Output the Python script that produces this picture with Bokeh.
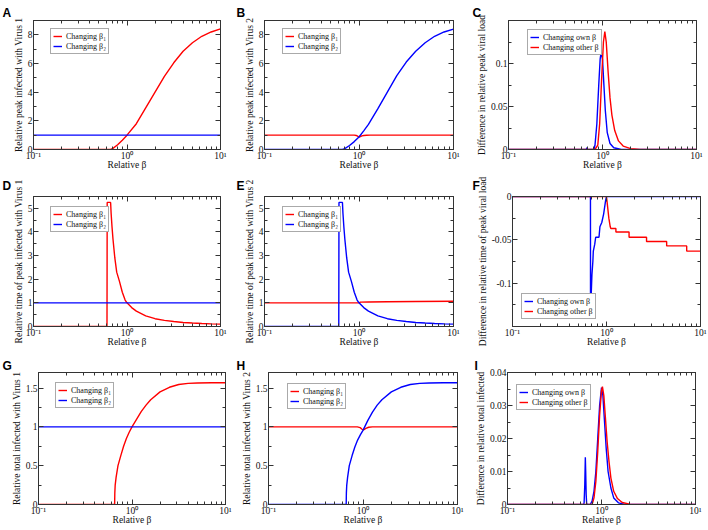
from bokeh.plotting import figure
from bokeh.models import (Range1d, LinearAxis, LogAxis, FixedTicker, NumeralTickFormatter,
                          CustomJSTickFormatter, Legend, LegendItem)
from bokeh.layouts import column, row
from bokeh.embed import file_html
from bokeh.resources import INLINE

RED = "#ff0000"
BLUE = "#0000ff"
SERIF = "Liberation Serif"
SANS = "Liberation Sans"

# ---------------- shared axis data ----------------
X_RANGE = (0.1, 10)
X_TICKS = [0.1, 1, 10]
X_TICK_LABELS = ["10⁻¹", "10⁰", "10¹"]
X_MINOR = [0.2, 0.3, 0.4, 0.5, 0.6, 0.7, 0.8, 0.9, 2, 3, 4, 5, 6, 7, 8, 9]
X_LABEL = "Relative β"
LEG_BETA = ["Changing β₁", "Changing β₂"]
LEG_OWN = ["Changing own β", "Changing other β"]

# ---------------- panel A ----------------
a_b1_x = [0.1, 0.5, 0.668, 0.708, 0.794, 0.891, 1.0, 1.259, 1.585, 1.995, 2.512, 3.162, 3.981, 5.012, 6.310, 7.943, 10]
a_b1_y = [0, 0, 0, 0.08, 0.33, 0.65, 1.0, 1.8, 2.9, 4.0, 5.1, 6.05, 6.85, 7.45, 7.9, 8.2, 8.42]
a_b2_x = [0.1, 10]
a_b2_y = [1, 1]

# ---------------- panel B ----------------
b_b1_x = [0.1, 0.891, 0.933, 0.966, 1.0, 1.035, 1.072, 1.122, 1.202, 1.318, 10]
b_b1_y = [1, 1, 0.98, 0.93, 0.87, 0.9, 0.95, 0.98, 0.995, 1.0, 1.0]
b_b2_x = [0.1, 0.5, 0.668, 0.708, 0.794, 0.891, 1.0, 1.122, 1.259, 1.585, 1.995, 2.512, 3.162, 3.981, 5.012, 6.310, 7.943, 10]
b_b2_y = [0, 0, 0, 0.06, 0.28, 0.55, 0.87, 1.3, 1.75, 2.85, 4.0, 5.15, 6.1, 6.85, 7.45, 7.9, 8.2, 8.4]

# ---------------- panel C ----------------
c_own_x = [0.1, 0.646, 0.673, 0.681, 0.692, 0.813, 0.832, 0.871, 0.912, 0.944, 0.966, 1.0, 1.035, 1.072, 1.122, 1.202, 1.318, 1.585, 10]
c_own_y = [0, 0, 0, 0.002, 0, 0, 0.005, 0.03, 0.075, 0.105, 0.113, 0.105, 0.075, 0.045, 0.02, 0.007, 0.002, 0, 0]
c_oth_x = [0.1, 0.832, 0.891, 0.933, 0.977, 1.023, 1.059, 1.096, 1.148, 1.202, 1.259, 1.349, 1.479, 1.660, 1.995, 2.512, 10]
c_oth_y = [0, 0, 0.005, 0.03, 0.08, 0.125, 0.137, 0.125, 0.09, 0.06, 0.04, 0.022, 0.01, 0.004, 0.001, 0, 0]

# ---------------- panel D ----------------
d_b1_x = [0.1, 0.611, 0.614, 0.668, 0.676, 0.692, 0.708, 0.741, 0.776, 0.832, 0.891, 0.955, 1.0, 1.122, 1.259, 1.585, 1.995, 2.512, 3.162, 3.981, 5.012, 6.310, 7.943, 10]
d_b1_y = [0, 0, 5.25, 5.25, 4.8, 4.2, 3.7, 2.9, 2.3, 1.9, 1.45, 1.12, 1.0, 0.8, 0.65, 0.45, 0.33, 0.26, 0.21, 0.17, 0.145, 0.125, 0.11, 0.1]
d_b2_x = [0.1, 10]
d_b2_y = [1, 1]

# ---------------- panel E ----------------
e_b1_x = [0.1, 1.0, 1.035, 1.259, 1.995, 3.981, 10]
e_b1_y = [1.0, 1.0, 1.03, 1.035, 1.045, 1.055, 1.07]
e_b2_x = [0.1, 0.611, 0.614, 0.668, 0.676, 0.692, 0.708, 0.741, 0.776, 0.832, 0.891, 0.955, 1.0, 1.122, 1.259, 1.585, 1.995, 2.512, 3.162, 3.981, 5.012, 6.310, 7.943, 10]
e_b2_y = [0, 0, 5.25, 5.25, 4.8, 4.2, 3.7, 2.9, 2.3, 1.9, 1.45, 1.12, 1.0, 0.8, 0.65, 0.45, 0.33, 0.26, 0.21, 0.17, 0.145, 0.125, 0.11, 0.1]

# ---------------- panel F ----------------
f_own_x = [0.1, 0.675, 0.676, 0.684, 0.700, 0.716, 0.724, 0.750, 0.767, 0.832, 0.851, 0.891, 0.933, 0.977, 1.0, 10]
f_own_y = [0, 0, -0.12, -0.12, -0.09, -0.075, -0.063, -0.055, -0.047, -0.047, -0.035, -0.03, -0.02, -0.005, 0, 0]
f_oth_x = [0.1, 1.0, 1.023, 1.059, 1.096, 1.112, 1.259, 1.259, 1.738, 1.738, 2.667, 2.667, 4.365, 4.365, 7.129, 7.129, 10]
f_oth_y = [0, 0, -0.01, -0.025, -0.035, -0.037, -0.037, -0.041, -0.041, -0.047, -0.047, -0.052, -0.052, -0.057, -0.057, -0.063, -0.063]

# ---------------- panel G ----------------
g_b1_x = [0.1, 0.652, 0.655, 0.661, 0.676, 0.708, 0.759, 0.813, 0.871, 0.933, 1.0, 1.122, 1.259, 1.413, 1.585, 1.995, 2.512, 3.162, 3.981, 5.012, 7.079, 10]
g_b1_y = [0, 0, 0.15, 0.25, 0.35, 0.5, 0.63, 0.75, 0.85, 0.93, 1.0, 1.1, 1.2, 1.28, 1.35, 1.45, 1.51, 1.545, 1.56, 1.565, 1.568, 1.568]
g_b2_x = [0.1, 10]
g_b2_y = [1, 1]

# ---------------- panel H ----------------
h_b1_x = [0.1, 0.871, 0.933, 0.977, 1.0, 1.023, 1.072, 1.148, 1.259, 10]
h_b1_y = [1, 1, 0.99, 0.97, 0.96, 0.965, 0.98, 0.995, 1, 1]
h_b2_x = [0.1, 0.664, 0.667, 0.673, 0.687, 0.716, 0.767, 0.82, 0.877, 0.94, 1.0, 1.122, 1.259, 1.413, 1.585, 1.995, 2.512, 3.162, 3.981, 5.012, 7.079, 10]
h_b2_y = [0, 0, 0.15, 0.25, 0.35, 0.5, 0.63, 0.74, 0.83, 0.9, 0.955, 1.08, 1.19, 1.28, 1.35, 1.45, 1.51, 1.545, 1.56, 1.565, 1.568, 1.568]

# ---------------- panel I ----------------
i_own_x = [0.1, 0.646, 0.653, 0.664, 0.673, 0.679, 0.687, 0.695, 0.708, 0.759, 0.794, 0.832, 0.871, 0.912, 0.955, 1.0, 1.035, 1.072, 1.122, 1.175, 1.259, 1.349, 1.514, 1.778, 10]
i_own_y = [0, 0, 0.0005, 0.006, 0.0143, 0.01, 0.003, 0.0003, 0, 0, 0.001, 0.004, 0.01, 0.02, 0.03, 0.0354, 0.033, 0.026, 0.017, 0.01, 0.005, 0.002, 0.0005, 0, 0]
i_oth_x = [0.1, 0.794, 0.832, 0.871, 0.912, 0.955, 1.0, 1.023, 1.059, 1.096, 1.148, 1.202, 1.259, 1.349, 1.479, 1.660, 1.995, 10]
i_oth_y = [0, 0, 0.002, 0.007, 0.016, 0.027, 0.0345, 0.0357, 0.033, 0.027, 0.019, 0.013, 0.008, 0.004, 0.0018, 0.0006, 0.0001, 0]

# y-axis setups
A_YR, A_YT, A_YM = (0, 9), [0, 2, 4, 6, 8], [1, 3, 5, 7, 9]
C_YR, C_YT, C_YM = (0, 0.15), [0, 0.05, 0.1], [0.025, 0.075, 0.125]
D_YR, D_YT, D_YM = (0, 5.5), [0, 1, 2, 3, 4, 5], [0.5, 1.5, 2.5, 3.5, 4.5]
F_YR, F_YT, F_YM = (-0.15, 0), [-0.1, -0.05, 0], [-0.125, -0.075, -0.025]
G_YR, G_YT, G_YM = (0, 1.7), [0, 0.5, 1, 1.5], [0.25, 0.75, 1.25]
I_YR, I_YT, I_YM = (0, 0.04), [0, 0.01, 0.02, 0.03, 0.04], [0.005, 0.015, 0.025, 0.035]

AXC = "#333333"
TXC = "#111111"
LEG_ROW = 10
LEG_PAD = 2
LEG_H = 2 * LEG_ROW + 2 * LEG_PAD + 4   # rendered box is a few px taller than rows+padding


def style_axis(ax, show_labels, label_standoff=0):
    ax.major_tick_in = 5
    ax.major_tick_out = 0
    ax.minor_tick_in = 3
    ax.minor_tick_out = 0
    ax.axis_line_color = AXC
    ax.major_tick_line_color = AXC
    ax.minor_tick_line_color = AXC
    if show_labels:
        ax.major_label_text_font = SERIF
        ax.major_label_text_font_size = "9.5px"
        ax.major_label_text_color = TXC
        ax.major_label_standoff = 1
        ax.axis_label_text_font = SERIF
        ax.axis_label_text_font_size = "9.5px"
        ax.axis_label_text_font_style = "normal"
        ax.axis_label_text_color = TXC
        ax.axis_label_standoff = label_standoff
    else:
        ax.formatter = CustomJSTickFormatter(code="return ''")
        ax.major_label_text_font_size = "1px"
        ax.major_label_standoff = 0


def panel(letter, w, h, bl, br, bt, bb, yr, yt, ym, ylabel, series, labels, leg_pos,
          leg_bottom=False, letter_x=0, letter_standoff=0):
    p = figure(width=w, height=h, x_axis_type="log",
               x_range=Range1d(*X_RANGE), y_range=Range1d(*yr),
               output_backend="svg", toolbar_location=None,
               min_border_left=bl, min_border_right=br, min_border_top=bt, min_border_bottom=bb)
    p.xgrid.visible = False
    p.ygrid.visible = False
    p.outline_line_color = AXC
    p.background_fill_color = "white"
    p.border_fill_color = "white"

    # panel letter as a left-aligned title pushed out to the canvas corner
    p.title.text = letter
    p.title.align = "left"
    p.title.offset = letter_x - bl
    p.title.standoff = letter_standoff
    p.title.text_font = SANS
    p.title.text_font_style = "bold"
    p.title.text_font_size = "12px"
    p.title.text_color = "black"

    xt = FixedTicker(ticks=X_TICKS, minor_ticks=X_MINOR)
    ytk = FixedTicker(ticks=yt, minor_ticks=ym)
    p.xaxis.ticker = xt
    p.xaxis.major_label_overrides = dict(zip(X_TICKS, X_TICK_LABELS))
    p.xaxis.axis_label = X_LABEL
    p.yaxis.ticker = ytk
    p.yaxis.formatter = NumeralTickFormatter(format="0.[00]")
    p.yaxis.axis_label = ylabel
    for ax in p.xaxis:
        style_axis(ax, True, -4)
    for ax in p.yaxis:
        style_axis(ax, True, 1)
    top = LogAxis(ticker=xt)
    right = LinearAxis(ticker=ytk)
    style_axis(top, False)
    style_axis(right, False)
    p.add_layout(top, "above")
    p.add_layout(right, "right")

    rs = []
    for (xs, ys, col) in series:
        rs.append(p.line(xs, ys, line_color=col, line_width=1.4))
    fh = h - bt - bb
    if leg_bottom:
        loc = leg_pos
    else:
        loc = (leg_pos[0], fh - leg_pos[1] - LEG_H)
    items = [LegendItem(label=lab, renderers=[r]) for lab, r in zip(labels, rs)]
    leg = Legend(items=items, location=loc,
                 label_text_font=SERIF, label_text_font_size="8px", label_text_color=TXC,
                 glyph_width=9, glyph_height=8, label_height=LEG_ROW, label_standoff=4,
                 spacing=0, padding=LEG_PAD, margin=0,
                 border_line_color="#555555", border_line_width=1,
                 background_fill_color="white", background_fill_alpha=1)
    p.add_layout(leg)
    return p


# row heights / borders
R1 = dict(h=172, bt=20, bb=21, ls=2)
R2 = dict(h=184, bt=23, bb=30, ls=8)
R3 = dict(h=174, bt=16, bb=26, ls=0)

pA = panel("A", 236, R1["h"], 33, 16, R1["bt"], R1["bb"], A_YR, A_YT, A_YM,
           "Relative peak infected with Virus 1",
           [(a_b1_x, a_b1_y, RED), (a_b2_x, a_b2_y, BLUE)], LEG_BETA, (17, 8),
           letter_x=2, letter_standoff=R1["ls"])
pB = panel("B", 236, R1["h"], 28, 19, R1["bt"], R1["bb"], A_YR, A_YT, A_YM,
           "Relative peak infected with Virus 2",
           [(b_b1_x, b_b1_y, RED), (b_b2_x, b_b2_y, BLUE)], LEG_BETA, (18, 8),
           letter_x=0, letter_standoff=R1["ls"])
pC = panel("C", 236, R1["h"], 36, 12, R1["bt"], R1["bb"], C_YR, C_YT, C_YM,
           "Difference in relative peak viral load",
           [(c_own_x, c_own_y, BLUE), (c_oth_x, c_oth_y, RED)], LEG_OWN, (19, 9),
           letter_x=0, letter_standoff=R1["ls"])

pD = panel("D", 236, R2["h"], 33, 16, R2["bt"], R2["bb"], D_YR, D_YT, D_YM,
           "Relative time of peak infected with Virus 1",
           [(d_b1_x, d_b1_y, RED), (d_b2_x, d_b2_y, BLUE)], LEG_BETA, (17, 9),
           letter_x=2, letter_standoff=R2["ls"])
pE = panel("E", 236, R2["h"], 28, 19, R2["bt"], R2["bb"], D_YR, D_YT, D_YM,
           "Relative time of peak infected with Virus 2",
           [(e_b1_x, e_b1_y, RED), (e_b2_x, e_b2_y, BLUE)], LEG_BETA, (18, 9),
           letter_x=0, letter_standoff=R2["ls"])
pF = panel("F", 236, R2["h"], 40, 8, R2["bt"], R2["bb"], F_YR, F_YT, F_YM,
           "Difference in relative time of peak viral load",
           [(f_own_x, f_own_y, BLUE), (f_oth_x, f_oth_y, RED)], LEG_OWN, (9, 7),
           leg_bottom=True, letter_x=0, letter_standoff=R2["ls"])

pG = panel("G", 236, R3["h"], 38, 11, R3["bt"], R3["bb"], G_YR, G_YT, G_YM,
           "Relative total infected with Virus 1",
           [(g_b1_x, g_b1_y, RED), (g_b2_x, g_b2_y, BLUE)], LEG_BETA, (17, 8),
           letter_x=2, letter_standoff=R3["ls"])
pH = panel("H", 236, R3["h"], 32, 15, R3["bt"], R3["bb"], G_YR, G_YT, G_YM,
           "Relative total infected with Virus 2",
           [(h_b1_x, h_b1_y, RED), (h_b2_x, h_b2_y, BLUE)], LEG_BETA, (19, 9),
           letter_x=0, letter_standoff=R3["ls"])
pI = panel("I", 236, R3["h"], 35, 13, R3["bt"], R3["bb"], I_YR, I_YT, I_YM,
           "Difference in relative total infected",
           [(i_own_x, i_own_y, BLUE), (i_oth_x, i_oth_y, RED)], LEG_OWN, (9, 10),
           letter_x=2, letter_standoff=R3["ls"])

layout = column(row(pA, pB, pC, spacing=0), row(pD, pE, pF, spacing=0),
                row(pG, pH, pI, spacing=0), spacing=0)

open("out.html", "w").write(file_html(layout, INLINE))
